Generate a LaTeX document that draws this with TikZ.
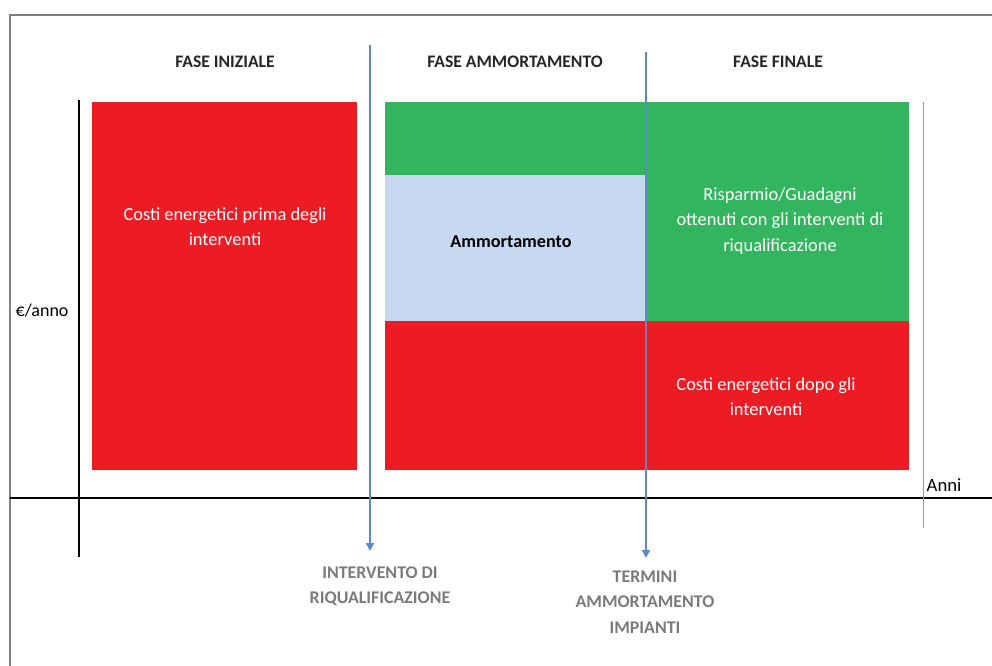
\documentclass[tikz,border=0pt]{standalone}
\usepackage{fontspec}
\setmainfont{Carlito}
\usetikzlibrary{arrows.meta,fit}

\definecolor{costred}{HTML}{ED1C24}
\definecolor{savegreen}{HTML}{33B55F}
\definecolor{amblue}{HTML}{C6D9F0}
\definecolor{arrowblue}{HTML}{5A8AC6}
\definecolor{labelgray}{HTML}{7A7A7A}
\definecolor{headgray}{HTML}{262626}

\tikzset{
  block/.style={inner sep=0pt,outer sep=0pt},
  intext/.style={text=white,align=center,font=\fontsize{13.8}{19}\selectfont},
  phase/.style={text=headgray,font=\bfseries\fontsize{13.2}{15}\selectfont},
  event/.style={text=labelgray,align=center,font=\bfseries\fontsize{13.4}{19}\selectfont},
  timeline/.style={arrowblue,line width=1.6pt,-{Triangle[width=6pt,length=6pt]}}
}

\begin{document}
\begin{tikzpicture}[x=0.75pt,y=-0.75pt]
        \useasboundingbox (0,0) rectangle (992,666);

        % frame and axes
        \draw[gray,line width=1.2pt] (10,666) -- (10,15) -- (992,15);
        \coordinate (ytop) at (79,100);
        \coordinate (ybot) at (79,557);
        \coordinate (xleft) at (10,498);
        \coordinate (xright) at (992,498);
        \coordinate (etop) at (923,102);
        \coordinate (ebot) at (923,528);
        \draw[black,line width=0.9pt] (ytop) -- (ybot);
        \draw[black,line width=0.9pt] (xleft) -- (xright);
        \draw[arrowblue!80,line width=0.6pt] (etop) -- (ebot);

        % blocks
        \node[block,fill=costred,fit={(92,102) (357,470)}] (before) {};
        \node[block,fill=savegreen,fit={(385,102) (909,321)}] (saving) {};
        \node[block,fill=amblue,fit={(385,175) (645,321)}] (amort) {};
        \node[block,fill=costred,fit={(385,321) (909,470)}] (after) {};

        % texts
        \node[phase] (ph1) at (225,62) {FASE INIZIALE};
        \node[phase] (ph2) at (515,62) {FASE AMMORTAMENTO};
        \node[phase] (ph3) at (778,62) {FASE FINALE};

        \node[intext] at (225,227) {Costi energetici prima degli\\interventi};
        \node[font=\bfseries\fontsize{13.6}{15}\selectfont] at (511,242) {Ammortamento};
        \node[intext] at (780,221) {Risparmio/Guadagni\\ottenuti con gli interventi di\\riqualificazione};
        \node[intext] at (766,397) {Costi energetici dopo gli\\interventi};

        \node[anchor=west,font=\fontsize{13.5}{15}\selectfont] (yunit) at (11,311) {€/anno};
        \node[anchor=west,font=\fontsize{14}{15}\selectfont] (xunit) at (922,485) {Anni};

        % events
        \node[event] (start) at (380,586) {INTERVENTO DI\\RIQUALIFICAZIONE};
        \node[event] (stop) at (645,602) {TERMINI\\AMMORTAMENTO\\IMPIANTI};
        \coordinate (s1) at (370,45);
        \coordinate (t1) at (370,551);
        \coordinate (s2) at (646,52);
        \coordinate (t2) at (646,558);
        \draw[timeline] (s1) -- (t1);
        \draw[timeline] (s2) -- (t2);
\end{tikzpicture}
\end{document}
